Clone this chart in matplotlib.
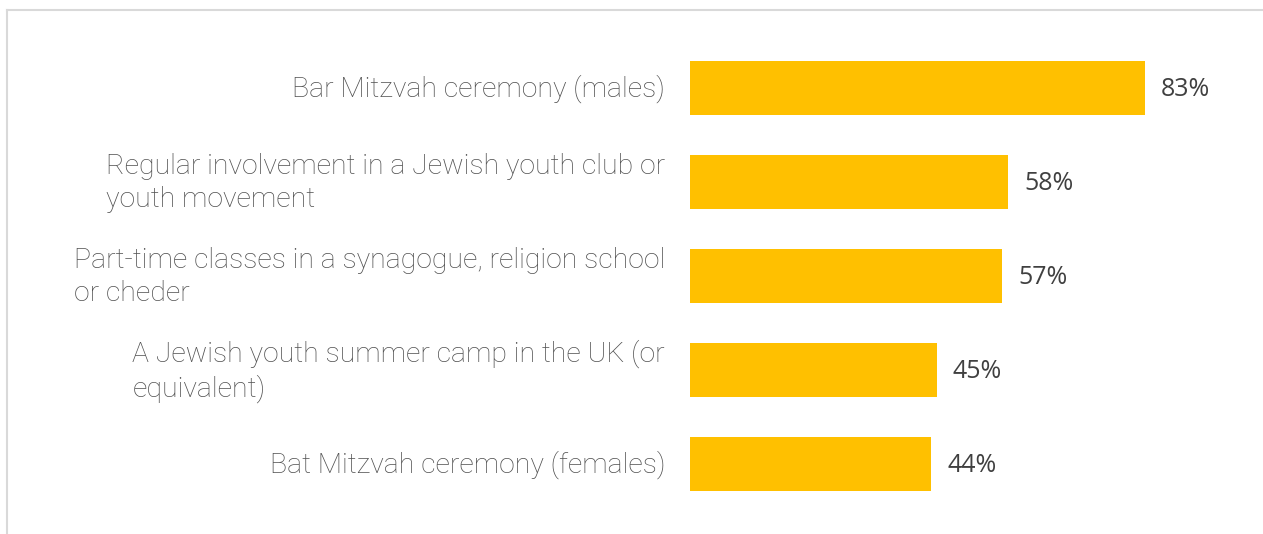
import matplotlib
matplotlib.use("Agg")
import matplotlib.pyplot as plt
from matplotlib.lines import Line2D

# data
categories = [
    "Bar Mitzvah ceremony (males)",
    "Regular involvement in a Jewish youth club or\nyouth movement",
    "Part-time classes in a synagogue, religion school\nor cheder",
    "A Jewish youth summer camp in the UK (or\nequivalent)",
    "Bat Mitzvah ceremony (females)",
]
values = [83, 58, 57, 45, 44]

W, H = 1263, 534
fig = plt.figure(figsize=(W / 100, H / 100), dpi=100)

# axes placed in pixels: bars start at x=690, centres 88..464 px
left, right = 690, 1263
top, bottom = 41, 511
ax = fig.add_axes([left / W, 1 - bottom / H, (right - left) / W, (bottom - top) / H])

y = list(range(len(categories)))
ax.barh(y, values, height=0.565, color="#FFC000", edgecolor="none")
ax.set_xlim(0, (right - left) / 5.482)
ax.set_ylim(len(categories) - 0.5, -0.5)
ax.axis("off")

font = ["Roboto", "DejaVu Sans"]
for i, (cat, v) in enumerate(zip(categories, values)):
    ax.annotate(cat, xy=(0, i), xytext=(-25, -1), textcoords="offset pixels",
                ha="right", va="center", multialignment="left",
                fontsize=20.4, color="#505050", family=font, weight="light",
                linespacing=1.3)
    ax.annotate(f"{v}%", xy=(v, i), xytext=(16, -2), textcoords="offset pixels",
                ha="left", va="center", fontsize=18, color="#404040",
                family=["Open Sans", "DejaVu Sans"])

# frame lines of the figure panel
fig.add_artist(Line2D([7 / W, 1], [1 - 10 / H, 1 - 10 / H], color="#d9d9d9", lw=1.5))
fig.add_artist(Line2D([7 / W, 7 / W], [0, 1 - 10 / H], color="#d9d9d9", lw=1.5))

fig.savefig("out.png", dpi=100)
